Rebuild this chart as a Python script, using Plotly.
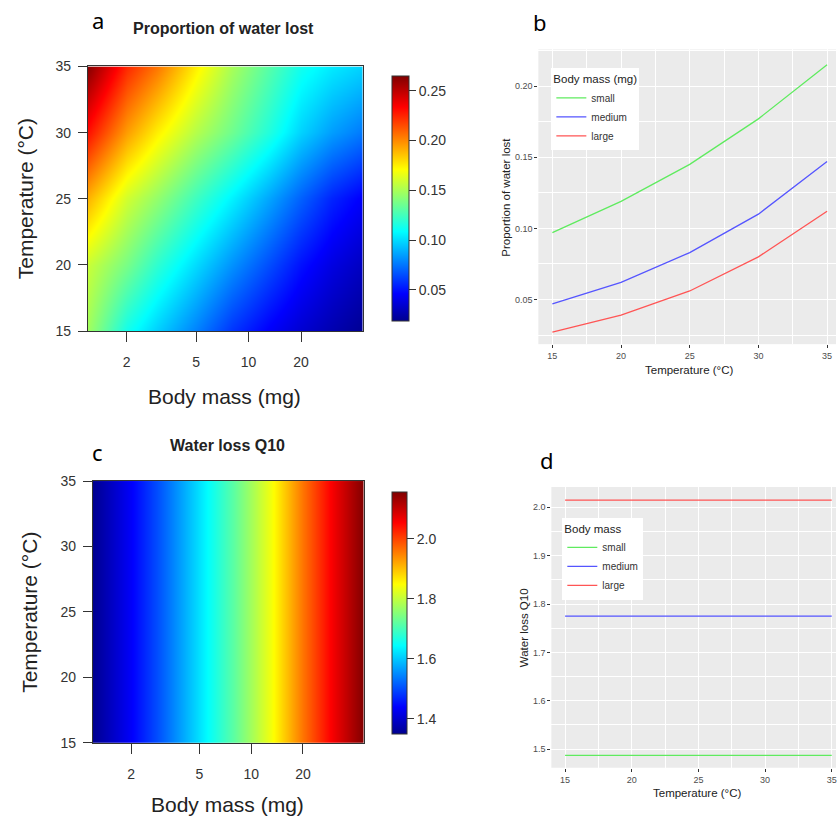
import math
import plotly.graph_objects as go

# ---------------- data ----------------
body_mass_mg = [1.2, 2, 3, 5, 8, 13, 20, 30, 45]
temperature_c = [15, 20, 25, 30, 35]

# proportion of water lost, rows = temperature (15..35), columns = body mass
prop_lost = [
    [0.148, 0.113, 0.097, 0.078, 0.059, 0.045, 0.035, 0.027, 0.020],
    [0.158, 0.138, 0.120, 0.100, 0.082, 0.065, 0.050, 0.039, 0.031],
    [0.190, 0.160, 0.145, 0.124, 0.106, 0.087, 0.070, 0.055, 0.045],
    [0.230, 0.195, 0.175, 0.153, 0.136, 0.117, 0.098, 0.085, 0.076],
    [0.263, 0.224, 0.205, 0.175, 0.150, 0.130, 0.113, 0.104, 0.098],
]

# water loss Q10 by body mass (independent of temperature)
q10_by_mass = [1.35, 1.435, 1.511, 1.622, 1.722, 1.839, 1.960, 2.062, 2.156]

size_classes = ["small", "medium", "large"]
line_temps = [15, 20, 25, 30, 35]
prop_small = [0.097, 0.119, 0.145, 0.177, 0.215]
prop_medium = [0.047, 0.062, 0.083, 0.110, 0.147]
prop_large = [0.027, 0.039, 0.056, 0.080, 0.112]
q10_small = [1.487, 1.487, 1.487, 1.487, 1.487]
q10_medium = [1.775, 1.775, 1.775, 1.775, 1.775]
q10_large = [2.015, 2.015, 2.015, 2.015, 2.015]

mass_ticks = [2, 5, 10, 20]
mass_tick_labels = ["2", "5", "10", "20"]
temp_ticks = [15, 20, 25, 30, 35]
cb_a_ticks = [0.05, 0.10, 0.15, 0.20, 0.25]
cb_a_labels = ["0.05", "0.10", "0.15", "0.20", "0.25"]
cb_c_ticks = [1.4, 1.6, 1.8, 2.0]
cb_c_labels = ["1.4", "1.6", "1.8", "2.0"]

# ---------------- layout helpers ----------------
W, H = 837, 822
# observed vertical mapping of the capture: shown_y = Y_OFF + Y_SCALE * page_y
Y_OFF, Y_SCALE = 7.5, 0.9815


def px_x(p):
    return p / W


def px_y(p):
    page = (p - Y_OFF) / Y_SCALE
    return 1 - page / H


def vlen(p):
    return p / Y_SCALE


# tim.colors-like (fields::image.plot default) palette
tim = [[0, "#00008F"], [7 / 63, "#0000FF"], [23 / 63, "#00FFFF"],
       [39 / 63, "#FFFF00"], [55 / 63, "#FF0000"], [1, "#800000"]]

line_colors = {"small": "rgb(95,235,95)", "medium": "rgb(85,85,255)", "large": "rgb(255,85,85)"}

RFONT = "Liberation Sans, Arial, sans-serif"

fig = go.Figure()

q10_grid = [q10_by_mass for _ in temperature_c]

fig.add_trace(go.Heatmap(
    x=body_mass_mg, y=temperature_c, z=prop_lost, zsmooth="best",
    colorscale=tim, zmin=0.019, zmax=0.265, xaxis="x", yaxis="y",
    colorbar=dict(x=px_x(392), xanchor="left", y=px_y(198), yanchor="middle",
                  lenmode="pixels", len=vlen(240), thickness=17, xpad=0, ypad=0,
                  outlinewidth=1, outlinecolor="#333",
                  tickvals=cb_a_ticks, ticktext=cb_a_labels, ticks="outside",
                  ticklen=7, tickcolor="#333",
                  tickfont=dict(size=14, color="#333", family=RFONT)),
    hoverinfo="skip",
))

fig.add_trace(go.Heatmap(
    x=body_mass_mg, y=temperature_c, z=q10_grid, zsmooth="best",
    colorscale=tim, zmin=1.349, zmax=2.156, xaxis="x2", yaxis="y2",
    colorbar=dict(x=px_x(392), xanchor="left", y=px_y(613), yanchor="middle",
                  lenmode="pixels", len=vlen(238), thickness=15, xpad=0, ypad=0,
                  outlinewidth=1, outlinecolor="#333",
                  tickvals=cb_c_ticks, ticktext=cb_c_labels, ticks="outside",
                  ticklen=7, tickcolor="#333",
                  tickfont=dict(size=14, color="#333", family=RFONT)),
    hoverinfo="skip",
))

for name, vals in zip(size_classes, [prop_small, prop_medium, prop_large]):
    fig.add_trace(go.Scatter(x=line_temps, y=vals, mode="lines", name=name,
                             line=dict(color=line_colors[name], width=1.3),
                             xaxis="x3", yaxis="y3", legend="legend"))

for name, vals in zip(size_classes, [q10_small, q10_medium, q10_large]):
    fig.add_trace(go.Scatter(x=line_temps, y=vals, mode="lines", name=name,
                             line=dict(color=line_colors[name], width=1.3),
                             xaxis="x4", yaxis="y4", legend="legend2"))

heat_x_common = dict(type="log", tickvals=mass_ticks, ticktext=mass_tick_labels,
                     ticks="outside", ticklen=10, tickcolor="#333", showgrid=False,
                     zeroline=False, showline=True, mirror=True, linecolor="#333",
                     linewidth=1, ticklabelstandoff=8,
                     tickfont=dict(size=14, color="#333", family=RFONT),
                     range=[math.log10(1.2), math.log10(45)])
heat_y_common = dict(tickvals=temp_ticks, ticks="outside", ticklen=9, tickcolor="#333",
                     showgrid=False, zeroline=False, showline=True, mirror=True,
                     linecolor="#333", linewidth=1, range=[15, 35], ticklabelstandoff=4,
                     tickfont=dict(size=14, color="#333", family=RFONT))

gg_common = dict(ticks="outside", ticklen=3, tickcolor="#333", tickwidth=1,
                 showgrid=True, gridcolor="white", gridwidth=1.1, zeroline=False,
                 showline=False, ticklabeloverflow="allow",
                 tickfont=dict(size=9, color="#4D4D4D", family=RFONT))

fig.update_layout(
    width=W, height=H, margin=dict(l=0, r=0, t=0, b=0),
    paper_bgcolor="white", plot_bgcolor="#EBEBEB",
    font=dict(family=RFONT),
    xaxis=dict(domain=[px_x(88), px_x(363)], anchor="y", **heat_x_common),
    yaxis=dict(domain=[px_y(331), px_y(66)], anchor="x", **heat_y_common),
    xaxis2=dict(domain=[px_x(93), px_x(364)], anchor="y2", **heat_x_common),
    yaxis2=dict(domain=[px_y(743), px_y(481)], anchor="x2", **heat_y_common),
    xaxis3=dict(domain=[px_x(539), 1.0], anchor="y3", range=[13.98, 35.65],
                tick0=15, dtick=5,
                minor=dict(dtick=2.5, tick0=15, showgrid=True, gridcolor="white", gridwidth=0.5),
                **gg_common),
    yaxis3=dict(domain=[px_y(344), px_y(49)], anchor="x3", range=[0.0186, 0.2258],
                tick0=0.05, dtick=0.05, tickformat=".2f",
                minor=dict(dtick=0.025, tick0=0.025, showgrid=True, gridcolor="white", gridwidth=0.5),
                **gg_common),
    xaxis4=dict(domain=[px_x(552), 1.0], anchor="y4", range=[13.97, 35.32],
                tick0=15, dtick=5,
                minor=dict(dtick=2.5, tick0=15, showgrid=True, gridcolor="white", gridwidth=0.5),
                **gg_common),
    yaxis4=dict(domain=[px_y(768), px_y(487)], anchor="x4", range=[1.4614, 2.042],
                tick0=1.5, dtick=0.1, tickformat=".1f",
                minor=dict(dtick=0.05, tick0=1.45, showgrid=True, gridcolor="white", gridwidth=0.5),
                **gg_common),
    legend=dict(x=px_x(552), y=px_y(68), xanchor="left", yanchor="top",
                bgcolor="white", borderwidth=0,
                title=dict(text="Body mass (mg)", font=dict(size=11.5, color="#222")),
                font=dict(size=10, color="#333"), tracegroupgap=0),
    legend2=dict(x=px_x(563), y=px_y(518), xanchor="left", yanchor="top",
                 bgcolor="white", borderwidth=0,
                 title=dict(text="Body mass", font=dict(size=11.5, color="#222")),
                 font=dict(size=10, color="#333"), tracegroupgap=0),
    showlegend=True,
)


def ann(text, x, y, size, color="#222", angle=0, family=RFONT, bold=False):
    if bold:
        text = "<b>" + text + "</b>"
    fig.add_annotation(text=text, x=px_x(x), y=px_y(y), xref="paper", yref="paper",
                       showarrow=False, textangle=angle, xanchor="center", yanchor="middle",
                       font=dict(size=size, color=color, family=family))


LFONT = "Noto Sans, Open Sans, sans-serif"
ann("a", 98, 20, 22, color="black", family=LFONT)
ann("b", 541, 22, 22, color="black", family=LFONT)
ann("c", 98, 452, 22, color="black", family=LFONT)
ann("d", 548, 460, 22, color="black", family=LFONT)

ann("Proportion of water lost", 224, 28, 16, bold=True)
ann("Water loss Q10", 228, 445, 16, bold=True)

ann("Temperature (°C)", 25, 198, 21, angle=-90)
ann("Body mass (mg)", 225, 396, 21)
ann("Temperature (°C)", 30, 612, 21, angle=-90)
ann("Body mass (mg)", 228, 805, 21)

ann("Proportion of water lost", 507, 197, 11.5, angle=-90)
ann("Temperature (°C)", 690, 370, 11.5)
ann("Water loss Q10", 525, 628, 11.5, angle=-90)
ann("Temperature (°C)", 698, 793, 11.5)

fig.write_html("out.html", config={"displayModeBar": False},
               post_script="document.body.style.margin='0';document.body.style.overflow='hidden';")
